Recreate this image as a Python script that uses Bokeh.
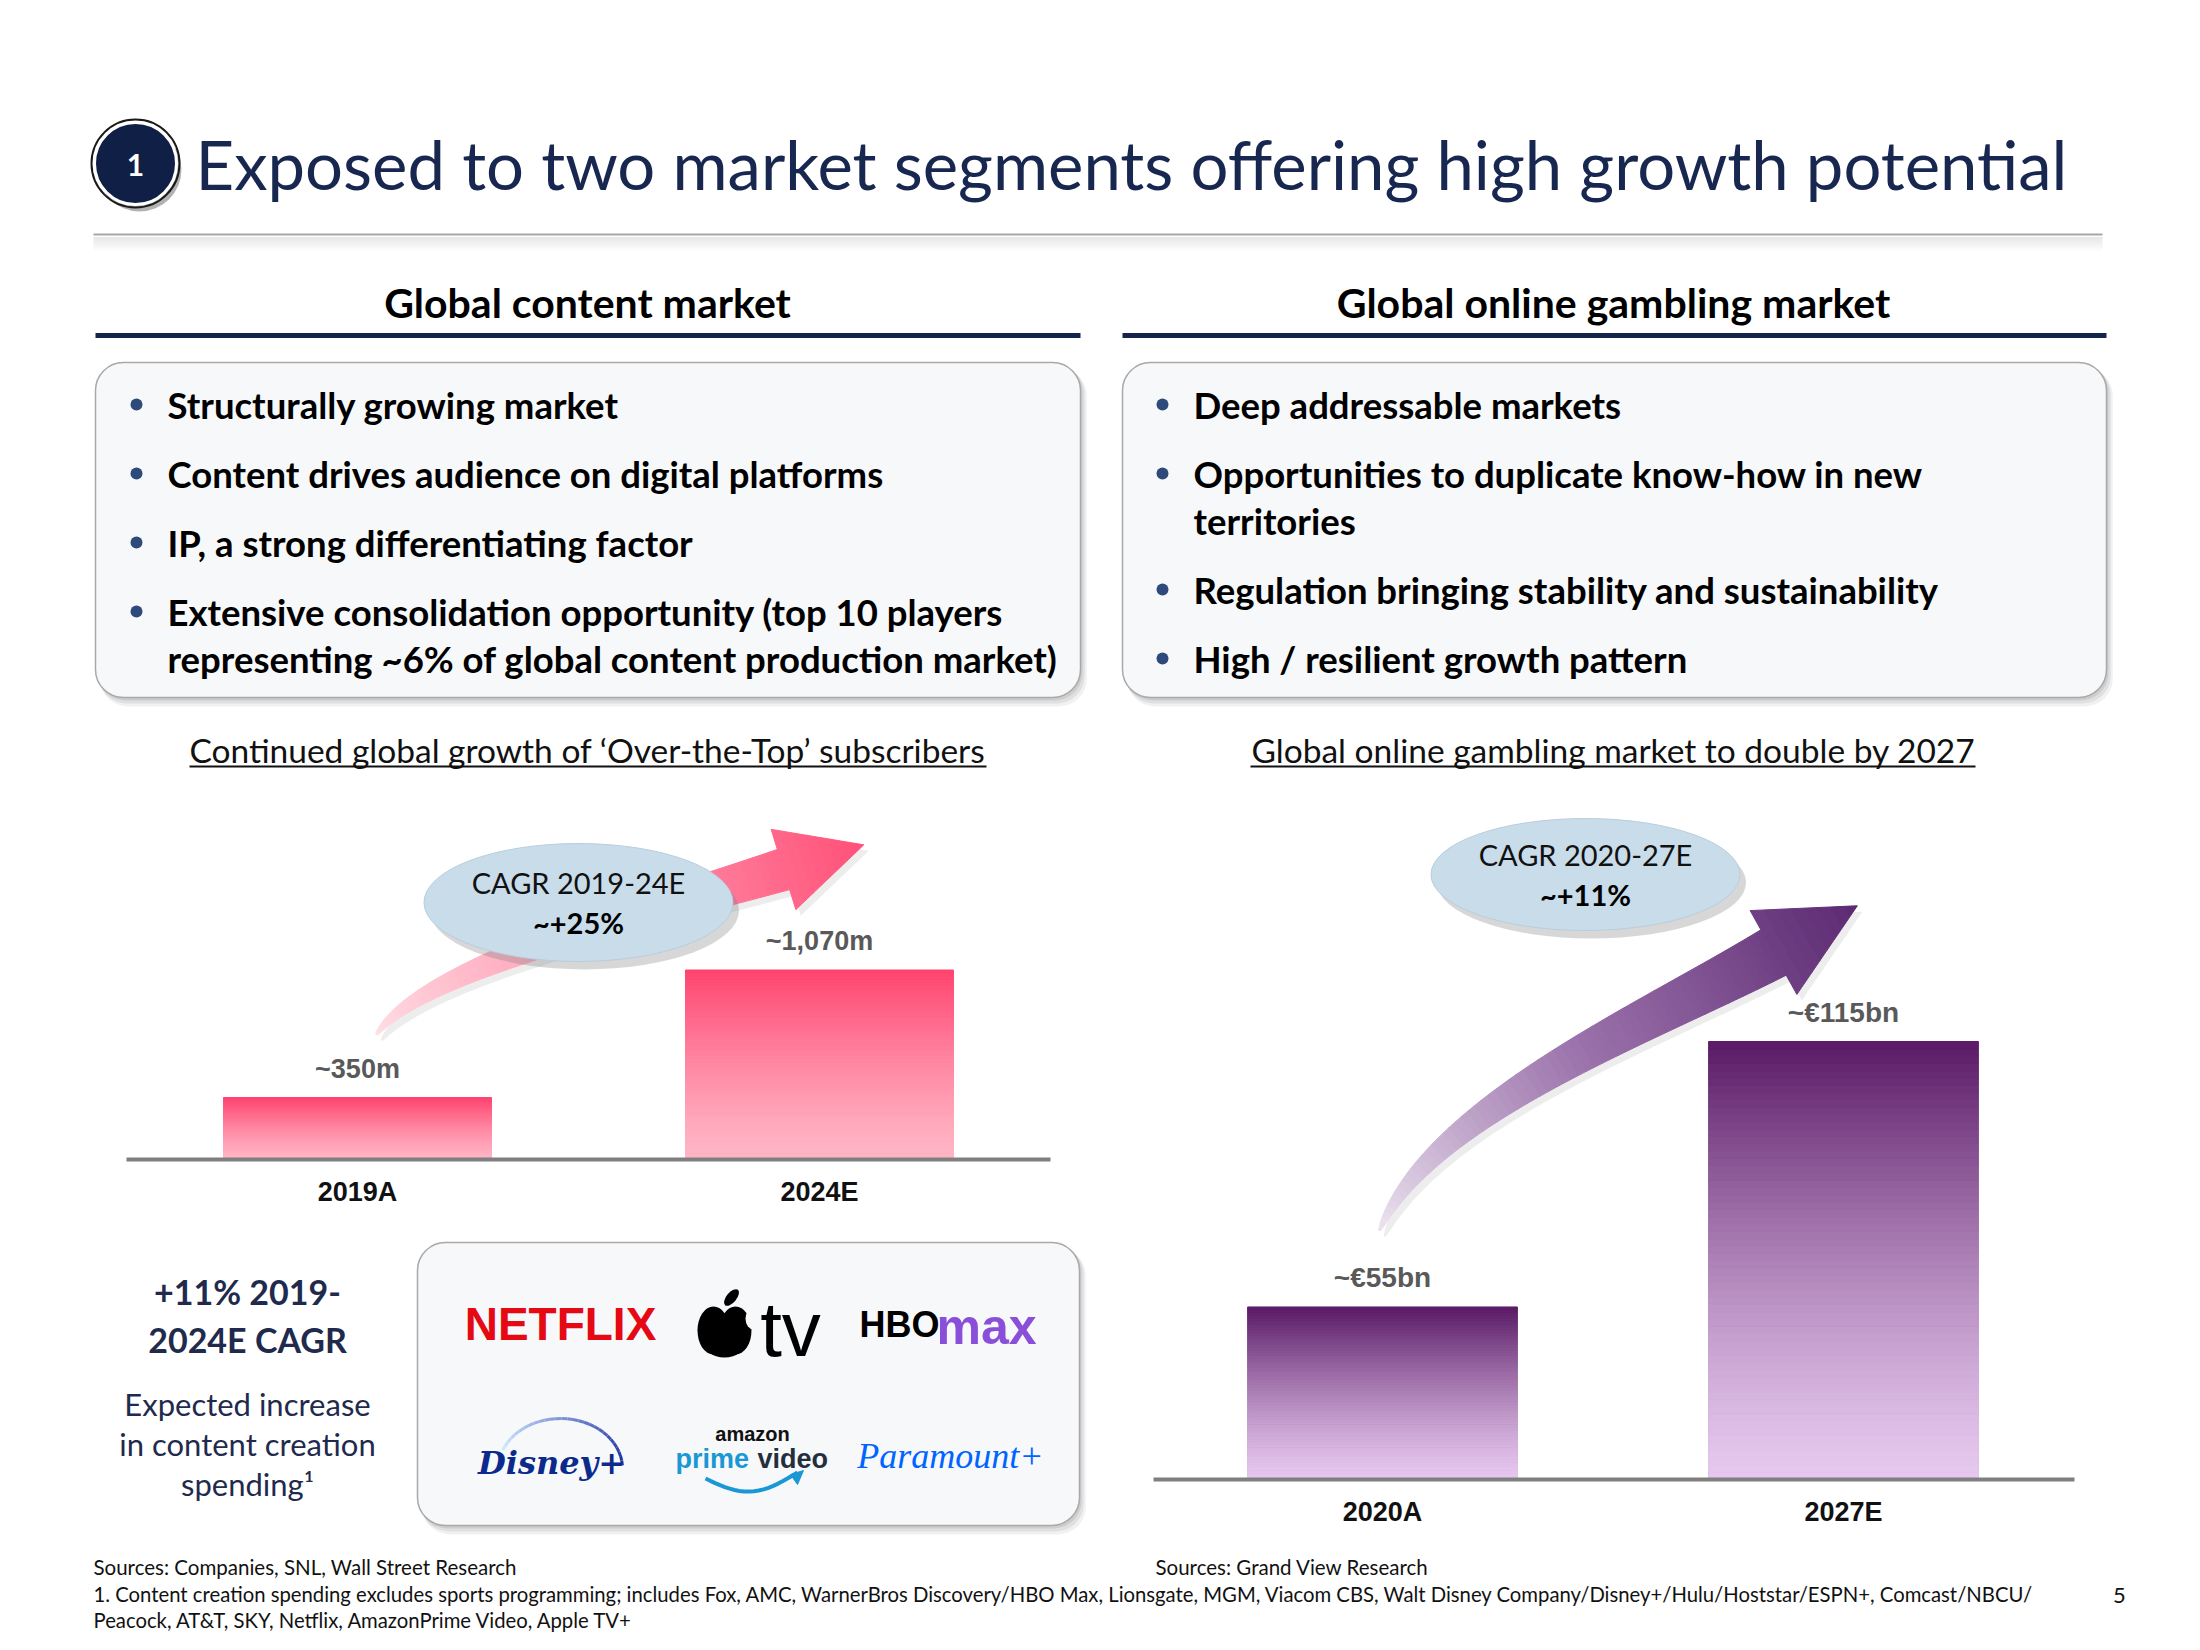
import numpy as np
from bokeh.plotting import figure
from bokeh.models import Range1d
from bokeh.embed import file_html
from bokeh.resources import INLINE
from bokeh.core.properties import value

# ---------------- data ----------------
title = "Exposed to two market segments offering high growth potential"
section_titles = ["Global content market", "Global online gambling market"]
left_bullets = [["Structurally growing market"],
                ["Content drives audience on digital platforms"],
                ["IP, a strong differentiating factor"],
                ["Extensive consolidation opportunity (top 10 players",
                 "representing ~6% of global content production market)"]]
right_bullets = [["Deep addressable markets"],
                 ["Opportunities to duplicate know-how in new", "territories"],
                 ["Regulation bringing stability and sustainability"],
                 ["High / resilient growth pattern"]]
chart_titles = ["Continued global growth of \u2018Over-the-Top\u2019 subscribers",
                "Global online gambling market to double by 2027"]

content_cats = ["2019A", "2024E"]
content_vals = [350, 1070]
content_labels = ["~350m", "~1,070m"]
content_cagr = ["CAGR 2019-24E", "~+25%"]

gambling_cats = ["2020A", "2027E"]
gambling_vals = [55, 115]
gambling_labels = ["~\u20ac55bn", "~\u20ac115bn"]
gambling_cagr = ["CAGR 2020-27E", "~+11%"]

spend_head = ["+11% 2019-", "2024E CAGR"]
spend_text = ["Expected increase", "in content creation", "spending\u00b9"]

sources_left = "Sources: Companies, SNL, Wall Street Research"
sources_right = "Sources: Grand View Research"
footnote = ["1. Content creation spending excludes sports programming; includes Fox, AMC, WarnerBros Discovery/HBO Max, Lionsgate, MGM, Viacom CBS, Walt Disney Company/Disney+/Hulu/Hoststar/ESPN+, Comcast/NBCU/",
            "Peacock, AT&T, SKY, Netflix, AmazonPrime Video, Apple TV+"]
page_no = "5"

# ---------------- canvas ----------------
W, H = 2184, 1634
X0, Y0 = 0, 0
p = figure(width=W, height=H, x_range=Range1d(X0, X0 + W), y_range=Range1d(Y0 + H, Y0),
           output_backend="svg", toolbar_location=None, min_border=0,
           x_axis_location=None, y_axis_location=None)
p.grid.visible = False
p.outline_line_color = None
p.background_fill_color = "white"
p.border_fill_color = "white"

FONT = "Lato"
NAVY = "#172750"
TXT = "#111111"


def hex2rgb(h):
    h = h.lstrip("#")
    return np.array([int(h[i:i + 2], 16) for i in (0, 2, 4)], dtype=float)


def mix(c0, c1, f):
    a, b = hex2rgb(c0), hex2rgb(c1)
    c = a + (b - a) * f
    return "#%02x%02x%02x" % tuple(int(round(v)) for v in c)


def txt(x, y, s, size, color=TXT, font=FONT, style="normal", align="left", baseline="middle", **kw):
    p.text(x=[x], y=[y], text=[s], text_font=value(font), text_font_size=f"{size}px",
           text_font_style=style, text_color=color, text_align=align, text_baseline=baseline, **kw)


def rbox(l, r, t, b, rad=28):
    for k, a in [(9, 0.10), (6, 0.14), (3, 0.18)]:
        p.quad(left=l + k * 0.5, right=r + k * 0.7, top=t + k * 0.6, bottom=b + k,
               fill_color="#7a7a7a", fill_alpha=a, line_color=None, border_radius=rad)
    p.quad(left=l, right=r, top=t, bottom=b, fill_color="#f7f8fa", line_color="#a9a9a9",
           line_width=1.5, border_radius=rad)


# ---------------- header ----------------
p.circle(x=[139], y=[169], radius=42, fill_color="#555555", fill_alpha=0.45, line_color=None)
p.circle(x=[135], y=[163], radius=41, fill_color="#0f1f45", line_color="#ffffff", line_width=3)
p.circle(x=[135], y=[163], radius=44, fill_color=None, line_color="#1a1a1a", line_width=2)
txt(135, 164, "1", 30, color="white", style="bold", align="center")
txt(195, 163, title, 67, color=NAVY)

for k in range(14):
    p.line(x=[93, 2102], y=[237 + k, 237 + k], line_color="#cfcfcf", line_alpha=0.5 * (1 - k / 14), line_width=1)
p.line(x=[93, 2102], y=[234, 234], line_color="#a6a6a6", line_width=2)

# ---------------- sections ----------------
sec_cx = [587, 1613]
sec_lines = [(95, 1080), (1122, 2106)]
for cx, (l, r), s in zip(sec_cx, sec_lines, section_titles):
    txt(cx, 302, s, 41, color="#000000", style="bold", align="center")
    p.line(x=[l, r], y=[335, 335], line_color="#14244a", line_width=5)

rbox(95, 1080, 362, 697)
rbox(1122, 2106, 362, 697)


def bullets(blist, xdot, xtxt, y0=404, gap=69, lh=47):
    y = y0
    for b in blist:
        p.circle(x=[xdot], y=[y], radius=6, fill_color="#2e4a7a", line_color=None)
        for j, line in enumerate(b):
            txt(xtxt, y + j * lh, line, 36.5, color="#000000", style="bold")
        y += gap + (len(b) - 1) * lh


bullets(left_bullets, 136, 167)
bullets(right_bullets, 1162, 1193)

for cx, (ul, ur), s in zip(sec_cx, [(189, 986), (1250, 1975)], chart_titles):
    txt(cx, 749, s, 33.5, color=TXT, align="center")
    p.line(x=[ul, ur], y=[766, 766], line_color=TXT, line_width=2)


# ---------------- arrows ----------------
def tapered_arrow(P, w0, w1, head_w, head_len, c0, c1, cmid=None, nseg=60):
    P = np.array(P, dtype=float)
    t = np.linspace(0, 1, nseg + 1)
    B = (((1 - t) ** 3)[:, None] * P[0] + (3 * (1 - t) ** 2 * t)[:, None] * P[1]
         + (3 * (1 - t) * t ** 2)[:, None] * P[2] + (t ** 3)[:, None] * P[3])
    D = ((3 * (1 - t) ** 2)[:, None] * (P[1] - P[0]) + (6 * (1 - t) * t)[:, None] * (P[2] - P[1])
         + (3 * t ** 2)[:, None] * (P[3] - P[2]))
    D = D / np.linalg.norm(D, axis=1)[:, None]
    N = np.stack([-D[:, 1], D[:, 0]], axis=1)
    w = w0 + (w1 - w0) * t ** 0.7
    Lp = B + N * w[:, None]
    Rp = B - N * w[:, None]

    def col(f):
        if cmid is None:
            return mix(c0, c1, f)
        return mix(c0, cmid, f * 2) if f < 0.5 else mix(cmid, c1, (f - 0.5) * 2)

    xs, ys, cs = [], [], []
    for i in range(nseg):
        poly = [Lp[i], Lp[i + 1], Rp[i + 1], Rp[i]]
        xs.append([q[0] for q in poly])
        ys.append([q[1] for q in poly])
        cs.append(col((i + 0.5) / nseg * 0.85))
    u = D[-1]
    n = N[-1]
    tip = B[-1] + u * head_len
    a = B[-1] + n * head_w
    b = B[-1] - n * head_w
    nh = 8
    for k in range(nh):
        f0, f1 = k / nh, (k + 1) / nh
        pa0 = a + (tip - a) * f0
        pb0 = b + (tip - b) * f0
        pa1 = a + (tip - a) * f1
        pb1 = b + (tip - b) * f1
        xs.append([pa0[0], pa1[0], pb1[0], pb0[0]])
        ys.append([pa0[1], pa1[1], pb1[1], pb0[1]])
        cs.append(col(0.85 + 0.15 * (k + 0.5) / nh))
    sx = [[x + 5 for x in xx] for xx in xs]
    sy = [[y + 6 for y in yy] for yy in ys]
    p.patches(sx, sy, fill_color="#9a9a9a", fill_alpha=0.18, line_color=None)
    p.patches(xs, ys, fill_color=cs, line_color=cs, line_width=1)


tapered_arrow([(376, 1034), (421, 968), (643, 912), (783, 869)], 1.0, 21, 42, 84,
              "#ffe0e6", "#ff5078", cmid="#ff9db3")
tapered_arrow([(1379, 1230), (1430, 1110), (1642, 1025), (1773, 952)], 1.0, 26, 48, 96,
              "#ece4f0", "#5c2a72", cmid="#9a70aa")

# ---------------- bar charts ----------------


def bar_chart(name, cats, vals, labels, base_val, px_base, px_top_max, px_x0, px_dx, bar_frac,
              c_top, c_bot, line_span, label_size):
    k = (px_base - px_top_max) / (max(vals) - base_val)
    p.extra_y_ranges[name + "_y"] = Range1d(base_val - ((Y0 + H) - px_base) / k,
                                            base_val + (px_base - Y0) / k)
    p.extra_x_ranges[name + "_x"] = Range1d((X0 - px_x0) / px_dx, (X0 + W - px_x0) / px_dx)
    rx, ry = name + "_x", name + "_y"
    idx = list(range(len(cats)))
    nsl = 60
    xs, bots, tops, cols = [], [], [], []
    for i, v in zip(idx, vals):
        for j in range(nsl):
            xs.append(i)
            bots.append(base_val + (v - base_val) * j / nsl)
            tops.append(base_val + (v - base_val) * (j + 1) / nsl)
            f = (j + 0.5) / nsl
            cols.append(mix(c_bot, c_top, f ** 1.3))
    p.vbar(x=idx, bottom=base_val, top=vals, width=bar_frac, fill_color=c_top, line_color=None,
           x_range_name=rx, y_range_name=ry)
    p.vbar(x=xs, bottom=bots, top=tops, width=bar_frac, fill_color=cols, line_color=cols,
           line_width=1, x_range_name=rx, y_range_name=ry)
    p.line(x=list(line_span), y=[px_base, px_base], line_color="#7f7f7f", line_width=4)
    p.text(x=idx, y=vals, text=labels, text_font=value("Liberation Sans"), text_font_size=f"{label_size}px",
           text_font_style="bold", text_color="#595959", text_align="center", text_baseline="middle",
           y_offset=-29, x_range_name=rx, y_range_name=ry)
    p.text(x=idx, y=[base_val] * len(idx), text=cats, text_font=value("Liberation Sans"),
           text_font_size="27px", text_font_style="bold", text_color="#111111", text_align="center",
           text_baseline="middle", y_offset=32, x_range_name=rx, y_range_name=ry)


bar_chart("content", content_cats, content_vals, content_labels, 0, 1159, 969.5, 357, 462, 0.58,
          "#ff4470", "#ffb6c6", (126, 1050), 27)
bar_chart("gambling", gambling_cats, gambling_vals, gambling_labels, 16, 1479, 1041, 1382, 461, 0.585,
          "#5a1a66", "#e6c8ee", (1153, 2074), 28)

for (cx, cy, w, h), lines in [((578, 902, 309, 118), content_cagr), ((1585, 874, 309, 112), gambling_cagr)]:
    p.ellipse(x=[cx + 6], y=[cy + 8], width=w, height=h, fill_color="#7a7a7a", fill_alpha=0.3, line_color=None)
    p.ellipse(x=[cx], y=[cy], width=w, height=h, fill_color="#c9dcea", line_color="#b9cddd", line_width=1)
    txt(cx, cy - 20, lines[0], 29, color=TXT, align="center")
    txt(cx, cy + 20, lines[1], 29, color="#000000", style="bold", align="center")

# ---------------- bottom left ----------------
for j, s in enumerate(spend_head):
    txt(247, 1291 + j * 48, s, 34, color="#1f2a4d", style="bold", align="center")
for j, s in enumerate(spend_text):
    txt(247, 1403 + j * 40, s, 31, color="#1f2a4d", align="center")

rbox(417, 1079, 1242, 1525)

# logos
txt(560, 1323, "NETFLIX", 46, color="#e50914", font="Liberation Sans", style="bold", align="center")
p.ellipse(x=[713, 735], y=[1330, 1330], width=32, height=48, fill_color="#000000", line_color=None)
p.ellipse(x=[724], y=[1340], width=44, height=34, fill_color="#000000", line_color=None)
p.ellipse(x=[753], y=[1318], width=16, height=22, fill_color="#f7f8fa", line_color=None)
p.ellipse(x=[731], y=[1297], width=10, height=20, angle=-0.7, fill_color="#000000", line_color=None)
txt(790, 1328, "tv", 78, color="#000000", font="Liberation Sans", align="center")
txt(859, 1324, "HBO", 36, color="#000000", font="Liberation Sans", style="bold")
txt(936, 1326, "max", 50, color="#8a4fd8", font="Liberation Sans", style="bold")

th = np.linspace(np.pi * 1.12, np.pi * 1.98, 30)
ax = 560 + 62 * np.cos(th)
ay = 1468 + 50 * np.sin(th)
p.multi_line([[ax[i], ax[i + 1]] for i in range(29)], [[ay[i], ay[i + 1]] for i in range(29)],
             line_color=[mix("#cfe6ff", "#1a2fa0", i / 28) for i in range(29)], line_width=3)
txt(551, 1462, "Disney+", 32, color="#0b2a8c", font="DejaVu Serif", style="bold italic", align="center")

txt(752, 1433, "amazon", 20, color="#111111", font="Liberation Sans", style="bold", align="center")
txt(675, 1458, "prime", 27, color="#1a98d5", font="Liberation Sans", style="bold")
txt(757, 1458, "video", 27, color="#232f3e", font="Liberation Sans", style="bold")
sm = np.linspace(0, 1, 20)
p.line(x=list(705 + 92 * sm), y=list(1478 + 16 * np.sin(np.pi * sm) - 6 * sm), line_color="#1a98d5", line_width=4)
p.patch(x=[790, 803, 797], y=[1474, 1470, 1484], fill_color="#1a98d5", line_color="#1a98d5")

txt(950, 1455, "Paramount+", 36, color="#0064ff", font="Liberation Serif", style="italic", align="center")

# ---------------- footer ----------------
txt(93, 1566, sources_left, 20.5)
txt(1155, 1566, sources_right, 20.5)
for j, s in enumerate(footnote):
    txt(93, 1593 + j * 26, s, 20.3)
txt(2119, 1595, page_no, 22, align="center")

open("out.html", "w").write(file_html(p, INLINE))
